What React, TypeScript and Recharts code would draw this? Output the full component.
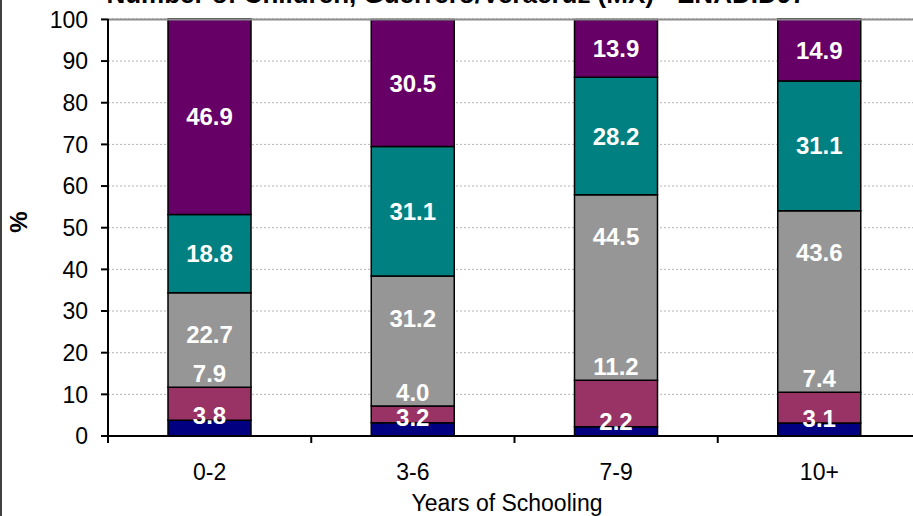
import { BarChart, Bar, XAxis, YAxis, CartesianGrid, LabelList, ReferenceLine } from 'recharts'

const categories = ['0-2', '3-6', '7-9', '10+']
// share (%) of women by number of children, per schooling group
const seriesA = [3.8, 3.2, 2.2, 3.1]
const seriesB = [7.9, 4.0, 11.2, 7.4]
const seriesC = [22.7, 31.2, 44.5, 43.6]
const seriesD = [18.8, 31.1, 28.2, 31.1]
const seriesE = [46.9, 30.5, 13.9, 14.9]
const yTicks = [0, 10, 20, 30, 40, 50, 60, 70, 80, 90, 100]

const data = categories.map((cat, i) => ({
  cat,
  a: seriesA[i],
  b: seriesB[i],
  c: seriesC[i],
  d: seriesD[i],
  e: seriesE[i],
}))

const FONT = '"Liberation Sans", Arial, sans-serif'
const TICK_LEN = 7
const TICK_GAP = 21

// label anchored to the segment top (shift in px) or to its middle
const segLabel = (shift: number | null) => (props: any) => {
  const x = Number(props.x)
  const w = Number(props.width)
  const h = Number(props.height)
  const top = Math.min(Number(props.y), Number(props.y) + h)
  const cy = shift === null ? top + Math.abs(h) / 2 : top + shift
  return (
    <text
      x={x + w / 2}
      y={cy}
      dy="0.36em"
      textAnchor="middle"
      fill="#ffffff"
      fontWeight="bold"
      fontSize={24}
      fontFamily={FONT}
    >
      {Number(props.value).toFixed(1)}
    </text>
  )
}

function CategoryTick(props: any) {
  const { x, y, payload, index } = props
  const half = payload?.offset ? payload.offset : Number(props.width) / categories.length / 2
  const axisY = y - TICK_LEN - TICK_GAP
  return (
    <g>
      {index === 0 && (
        <line x1={x - half} x2={x - half} y1={axisY} y2={axisY + TICK_LEN} stroke="#000" strokeWidth={2} />
      )}
      <line x1={x + half} x2={x + half} y1={axisY} y2={axisY + TICK_LEN} stroke="#000" strokeWidth={2} />
      <text x={x} y={y} dy="0.71em" textAnchor="middle" fill="#000" fontSize={23} fontFamily={FONT}>
        {payload.value}
      </text>
    </g>
  )
}

const series = [
  { key: 'a', color: '#000080', shift: -5 },
  { key: 'b', color: '#993366', shift: -14 },
  { key: 'c', color: '#969696', shift: 42 },
  { key: 'd', color: '#008080', shift: null },
  { key: 'e', color: '#660066', shift: null },
]

export default function App() {
  return (
    <div style={{ position: 'absolute', left: 0, top: 0, width: 913, height: 516, overflow: 'hidden', background: '#fff' }}>
      <BarChart
        width={921}
        height={516}
        data={data}
        margin={{ top: 19, right: 0, bottom: 0, left: 0 }}
        barSize={83}
      >
        <CartesianGrid vertical={false} stroke="#b4b4b4" strokeDasharray="2 2" />
        <ReferenceLine y={100} stroke="#8c8c8c" strokeWidth={2} />
        <XAxis
          dataKey="cat"
          height={80}
          tickLine={false}
          tickSize={TICK_LEN}
          tickMargin={TICK_GAP}
          axisLine={{ stroke: '#000', strokeWidth: 2 }}
          tick={<CategoryTick />}
          interval={0}
        />
        <YAxis
          width={108}
          domain={[0, 100]}
          ticks={yTicks}
          interval={0}
          tickSize={7}
          tickMargin={13}
          axisLine={{ stroke: '#000', strokeWidth: 2 }}
          tickLine={{ stroke: '#000', strokeWidth: 2 }}
          tick={{ fill: '#000', fontSize: 23, fontFamily: FONT }}
        />
        {series.map((s) => (
          <Bar
            key={s.key}
            dataKey={s.key}
            stackId="all"
            fill={s.color}
            stroke="#000"
            strokeWidth={1.5}
            isAnimationActive={false}
          >
            <LabelList dataKey={s.key} content={segLabel(s.shift)} />
          </Bar>
        ))}
      </BarChart>
      <svg
        width={913}
        height={516}
        style={{ position: 'absolute', left: 0, top: 0, pointerEvents: 'none' }}
      >
        <line x1={1} x2={1} y1={0} y2={516} stroke="#000" strokeWidth={1.5} />
        <text x={456} y={3} textAnchor="middle" fontWeight="bold" fontSize={26} fontFamily={FONT} fill="#000">
          Number of Children, Guerrero/Veracruz (MX) - ENADID97
        </text>
        <text
          x={18}
          y={222}
          transform="rotate(-90 18 222)"
          textAnchor="middle"
          dy="0.36em"
          fontWeight="bold"
          fontSize={24}
          fontFamily={FONT}
          fill="#000"
        >
          %
        </text>
        <text x={507} y={511} textAnchor="middle" fontSize={23} fontFamily={FONT} fill="#000">
          Years of Schooling
        </text>
      </svg>
    </div>
  )
}
